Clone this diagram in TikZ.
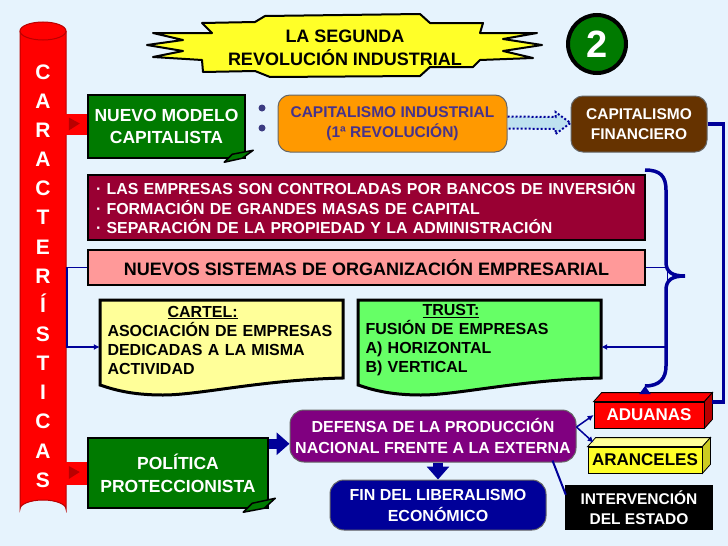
\documentclass[tikz,border=0pt]{standalone}
\usepackage{fontspec}
\setmainfont{Liberation Sans}
\definecolor{slidebg}{RGB}{230,243,253}
\definecolor{navyline}{RGB}{0,0,153}
\definecolor{cylred}{RGB}{255,0,0}
\definecolor{tabred}{RGB}{185,0,0}
\definecolor{modelgreen}{RGB}{0,122,0}
\definecolor{indorange}{RGB}{255,153,0}
\definecolor{indtext}{RGB}{70,50,140}
\definecolor{finbrown}{RGB}{102,51,0}
\definecolor{bankmaroon}{RGB}{153,0,51}
\definecolor{orgpink}{RGB}{255,153,153}
\definecolor{cartelyellow}{RGB}{255,255,153}
\definecolor{trustgreen}{RGB}{102,255,102}
\definecolor{defpurple}{RGB}{128,0,128}
\definecolor{burstyellow}{RGB}{255,255,40}
\definecolor{dotblue}{RGB}{60,60,130}
\definecolor{arrowfill}{RGB}{190,225,240}
\usepackage{tikz}
\usetikzlibrary{arrows.meta, positioning, calc}
\newcommand{\slidefont}[2]{\fontsize{#1}{#2}\selectfont\bfseries}

\begin{document}
\begin{tikzpicture}[x=1pt, y=-1pt,
  greenbox/.style={draw=black, line width=2.5pt, fill=modelgreen, text=white, inner sep=0pt, align=center},
  flatbox/.style={draw=black, line width=2.5pt, inner sep=0pt, align=center},
  roundbox/.style={draw=black!60, line width=1pt, rounded corners=12pt, inner sep=0pt, align=center},
  cube/.style={draw=black, line width=0.8pt, inner sep=0pt},
  tail/.style={fill=modelgreen, draw=black, line width=1.5pt, line join=round},
  thinarrow/.style={navyline, line width=1.5pt, -{Latex[length=6pt,width=6pt]}},
  fatarrow/.style={navyline, line width=10pt, -{Triangle[length=13pt,width=22pt]}},
  trunk/.style={navyline, line width=3.5pt}]

  % Slide
  \fill[slidebg] (0,0) rectangle (728,546);
  \useasboundingbox (0,0) rectangle (728,546);

  % Title burst
  \filldraw[fill=burstyellow, draw=black, line width=2pt, line join=round] (202,23) -- (255,22) -- (265,16) -- (420,14) -- (430,23) -- (483,23) -- (480,33) -- (537,33) -- (503,39) -- (542,45) -- (503,51) -- (533,58) -- (480,60) -- (473,67) -- (430,67) -- (420,76) -- (270,77) -- (255,71) -- (203,72) -- (202,60) -- (153,57) -- (183,51) -- (147,45) -- (183,40) -- (153,33) -- (212,33) -- cycle;
  \node[align=center, inner sep=0pt, font=\slidefont{18}{23}] (title) at (345,48) {LA SEGUNDA\\REVOLUCIÓN INDUSTRIAL};

  % Slide number
  \node[circle, draw=black, line width=4pt, fill=modelgreen, minimum size=58pt, inner sep=0pt, text=white, font=\slidefont{38}{40}] (num) at (597,44) {2};

  % Cylinder
  \fill[cylred] (20,31) -- (20,509) arc[start angle=180, end angle=360, x radius=23, y radius=9] -- (66,31) -- cycle;
  \draw[tabred, line width=1pt] (20,31) -- (20,509) arc[start angle=180, end angle=360, x radius=23, y radius=9] -- (66,31);
  \filldraw[fill=cylred, draw=tabred, line width=1pt] (43,31) ellipse [x radius=23, y radius=9];
  \node[align=center, inner sep=0pt, text=white, font=\slidefont{21}{29.15}] (caract) at (43,276) {C\\A\\R\\A\\C\\T\\E\\R\\Í\\S\\T\\I\\C\\A\\S};

  % Nuevo modelo
  \node[greenbox, minimum width=157pt, minimum height=63pt, font=\slidefont{17.5}{22}] (nuevo) at (166.5,126.5) {NUEVO MODELO\\CAPITALISTA};
  \filldraw[tail] ($(nuevo.south east)+(-22,3)$) -- ($(nuevo.south east)+(-14,-5)$) -- ($(nuevo.south east)+(7,-9)$) -- ($(nuevo.south east)+(-4,-1)$) -- cycle;
  \fill[cylred] ($(nuevo.west)+(-22,-13)$) rectangle ($(nuevo.west)+(0,8)$);
  \fill[tabred] ($(nuevo.west)+(-18,-9)$) -- ($(nuevo.west)+(-7,-3)$) -- ($(nuevo.west)+(-18,4)$) -- cycle;
  \fill[dotblue] (262,108) circle[radius=3.5pt];
  \fill[dotblue] (262,128) circle[radius=3.5pt];

  % Capitalismo
  \node[roundbox, fill=indorange, text=indtext, minimum width=229pt, minimum height=57pt, font=\slidefont{15.5}{19.5}] (capind) at (392.5,123.5) {CAPITALISMO INDUSTRIAL\\(1ª REVOLUCIÓN)};
  \node[roundbox, fill=finbrown, text=white, minimum width=136pt, minimum height=56pt, font=\slidefont{15.5}{20}] (capfin) at (639,124) {CAPITALISMO\\FINANCIERO};
  \filldraw[fill=arrowfill, draw=navyline, line width=2pt, dotted] ($(capind.east)+(0,-7)$) -- ($(capfin.west)+(-15,-7)$) -- ($(capfin.west)+(-15,-12)$) -- ($(capfin.west)+(0,-1)$) -- ($(capfin.west)+(-15,10)$) -- ($(capfin.west)+(-15,5)$) -- ($(capind.east)+(0,5)$);

  % Bancos
  \node[flatbox, fill=bankmaroon, text=white, minimum width=557pt, minimum height=65pt, text width=541pt, align=left, font=\slidefont{15.9}{19.5}] (bancos) at (366.5,207.5) {· LAS EMPRESAS SON CONTROLADAS POR BANCOS DE INVERSIÓN\\· FORMACIÓN DE GRANDES MASAS DE CAPITAL\\· SEPARACIÓN DE LA PROPIEDAD Y LA ADMINISTRACIÓN};

  % Nuevos sistemas
  \node[flatbox, fill=orgpink, minimum width=557pt, minimum height=35pt, font=\slidefont{18}{20}] (sistemas) at (366.5,267.5) {NUEVOS SISTEMAS DE ORGANIZACIÓN EMPRESARIAL};

  % Cartel and trust
  \filldraw[fill=cartelyellow, draw=black, line width=3pt] (100,385) -- (100,300) -- (343,300) -- (343,378) .. controls (260,380) and (200,395) .. (163,395) .. controls (130,395) and (112,389) .. (100,385) -- cycle;
  \node[inner sep=0pt, text width=228pt, minimum width=243pt, minimum height=80pt, align=left, font=\slidefont{16}{19}] (cartel) at (221.5,340) {\hspace*{60pt}\underline{CARTEL:}\\ASOCIACIÓN DE EMPRESAS\\DEDICADAS A LA MISMA\\ACTIVIDAD};
  \filldraw[fill=trustgreen, draw=black, line width=3pt] (358,385) -- (358,300) -- (601,300) -- (601,378) .. controls (518,380) and (458,395) .. (421,395) .. controls (388,395) and (370,389) .. (358,385) -- cycle;
  \node[inner sep=0pt, text width=228pt, minimum width=243pt, minimum height=80pt, align=left, font=\slidefont{16}{19}] (trust) at (479.5,340) {\hspace*{57pt}\underline{TRUST:}\\FUSIÓN DE EMPRESAS\\A) HORIZONTAL\\B) VERTICAL};
  \draw[thinarrow] (sistemas.west) -- ++(-20,0) |- ($(cartel.west)+(0,7)$);
  \draw[thinarrow] (sistemas.east) -- ++(21,0) |- ($(trust.east)+(0,7)$);

  % Brace
  \draw[trunk] (645,170) .. controls (660,170) and (666,176) .. (666,190) -- (666,262) .. controls (666,272) and (672,276) .. (685,276) .. controls (672,276) and (666,280) .. (666,290) -- (666,366) .. controls (666,378) and (660,386) .. (645,386);
  \coordinate (bracefoot) at (645,386);

  % Intervencion, aduanas, aranceles
  \node[fill=black, text=white, minimum width=148pt, minimum height=45pt, inner sep=0pt, align=center, font=\slidefont{15.5}{20}] (interv) at (639,507.5) {INTERVENCIÓN\\DEL ESTADO};
  \node[cube, fill=cylred, text=white, minimum width=110pt, minimum height=26pt, font=\slidefont{17}{20}] (aduanas) at (649,415) {ADUANAS};
  \filldraw[cube, fill=cylred] (aduanas.north west) -- ++(8,-9) -- ($(aduanas.north east)+(8,-9)$) -- (aduanas.north east) -- cycle;
  \filldraw[cube, fill=tabred] (aduanas.north east) -- ++(8,-9) -- ($(aduanas.south east)+(8,-9)$) -- (aduanas.south east) -- cycle;
  \node[cube, fill=burstyellow, minimum width=114pt, minimum height=26pt, font=\slidefont{17}{20}] (aranceles) at (645,460) {ARANCELES};
  \filldraw[cube, fill=cartelyellow] (aranceles.north west) -- ++(8,-9) -- ($(aranceles.north east)+(8,-9)$) -- (aranceles.north east) -- cycle;
  \filldraw[cube, fill=burstyellow!80!black] (aranceles.north east) -- ++(8,-9) -- ($(aranceles.south east)+(8,-9)$) -- (aranceles.south east) -- cycle;
  \draw[trunk] (capfin.east) -| ($(aduanas.east)+(19,-13)$) -- ($(aduanas.east)+(8,-13)$);
  \draw[trunk, -{Triangle[length=8pt,width=11pt]}] ($(aduanas.north -| bracefoot)+(0,-9)$) -- (bracefoot);

  % Politica proteccionista
  \node[roundbox, fill=defpurple, text=white, rounded corners=14pt, minimum width=286pt, minimum height=52pt, font=\slidefont{16}{21}] (defensa) at (433,436) {DEFENSA DE LA PRODUCCIÓN\\NACIONAL FRENTE A LA EXTERNA};
  \node[roundbox, fill=navyline, text=white, rounded corners=14pt, minimum width=216pt, minimum height=50pt, font=\slidefont{16}{21}] (fin) at (438,505) {FIN DEL LIBERALISMO\\ECONÓMICO};
  \node[greenbox, minimum width=180pt, minimum height=70pt, font=\slidefont{17.5}{23}] (politica) at (178,473) {POLÍTICA\\PROTECCIONISTA};
  \filldraw[tail] ($(politica.south east)+(-26,3)$) -- ($(politica.south east)+(-17,-6)$) -- ($(politica.south east)+(6,-11)$) -- ($(politica.south east)+(-5,-1)$) -- cycle;
  \fill[cylred] ($(politica.west)+(-22,-11)$) rectangle ($(politica.west)+(0,12)$);
  \fill[tabred] ($(politica.west)+(-18,-7)$) -- ($(politica.west)+(-7,-1)$) -- ($(politica.west)+(-18,6)$) -- cycle;
  \coordinate (protarrow) at ($(politica.north east)+(0,7)$);
  \draw[fatarrow] (protarrow) -- (protarrow -| defensa.west);
  \draw[fatarrow] (fin.north |- defensa.south) -- (fin.north);
  \coordinate (fork) at ($(defensa.east)+(0,-9)$);
  \draw[thinarrow] (fork) -- (aduanas.west);
  \draw[thinarrow] (fork) -- ($(aranceles.north west)+(6,-4)$);
  \draw[navyline, line width=2pt] ($(defensa.south east)+(-24,-2)$) -- ($(interv.north west)+(1,10)$);
\end{tikzpicture}
\end{document}
